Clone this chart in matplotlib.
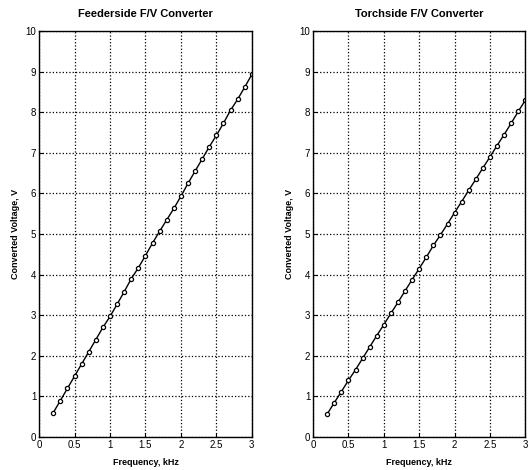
import matplotlib.pyplot as plt

plt.rcParams['font.family'] = ['Liberation Sans', 'DejaVu Sans']

freq_khz = [0.2, 0.3, 0.4, 0.5, 0.6, 0.7, 0.8, 0.9, 1.0, 1.1,
            1.2, 1.3, 1.4, 1.5, 1.6, 1.7, 1.8, 1.9, 2.0, 2.1,
            2.2, 2.3, 2.4, 2.5, 2.6, 2.7, 2.8, 2.9, 3.0]

feeder_volts = [0.60, 0.90, 1.20, 1.50, 1.80, 2.10, 2.40, 2.70, 2.97, 3.27,
                3.58, 3.90, 4.17, 4.47, 4.78, 5.07, 5.35, 5.63, 5.93, 6.25,
                6.55, 6.85, 7.15, 7.43, 7.73, 8.05, 8.32, 8.62, 8.93]

torch_volts = [0.57, 0.85, 1.12, 1.40, 1.66, 1.94, 2.22, 2.50, 2.77, 3.05,
               3.32, 3.60, 3.88, 4.15, 4.43, 4.72, 4.98, 5.25, 5.53, 5.80,
               6.08, 6.35, 6.63, 6.90, 7.18, 7.45, 7.73, 8.02, 8.30]

titles = ["Feederside F/V Converter", "Torchside F/V Converter"]
x_ticks = [0, 0.5, 1, 1.5, 2, 2.5, 3]
x_tick_labels = ["0", "0.5", "1", "1.5", "2", "2.5", "3"]
y_ticks = list(range(0, 11))

fig = plt.figure(figsize=(5.28, 4.70), dpi=100)
ax1 = fig.add_axes([0.074, 0.070, 0.403, 0.864])
ax2 = fig.add_axes([0.593, 0.070, 0.402, 0.864])

for ax, volts, title in zip([ax1, ax2], [feeder_volts, torch_volts], titles):
    ax.plot(freq_khz, volts, color='black', linewidth=1.0,
            marker='o', markersize=3.0, markerfacecolor='white',
            markeredgecolor='black', markeredgewidth=0.9)
    ax.set_xlim(0, 3)
    ax.set_ylim(0, 10)
    ax.set_xticks(x_ticks)
    ax.set_xticklabels(x_tick_labels)
    ax.set_yticks(y_ticks)
    ax.grid(True, color='black', linestyle=':', linewidth=0.9)
    ax.tick_params(direction='in', length=3, labelsize=7, pad=2)
    ax.set_title(title, fontsize=8, fontweight='bold', pad=10)
    ax.set_xlabel("Frequency, kHz", fontsize=6.5, fontweight='bold', labelpad=6)
    ax.set_ylabel("Converted Voltage, V", fontsize=6.5, fontweight='bold', labelpad=4)
    for spine in ax.spines.values():
        spine.set_linewidth(1.0)

fig.savefig("out.png", dpi=100)
